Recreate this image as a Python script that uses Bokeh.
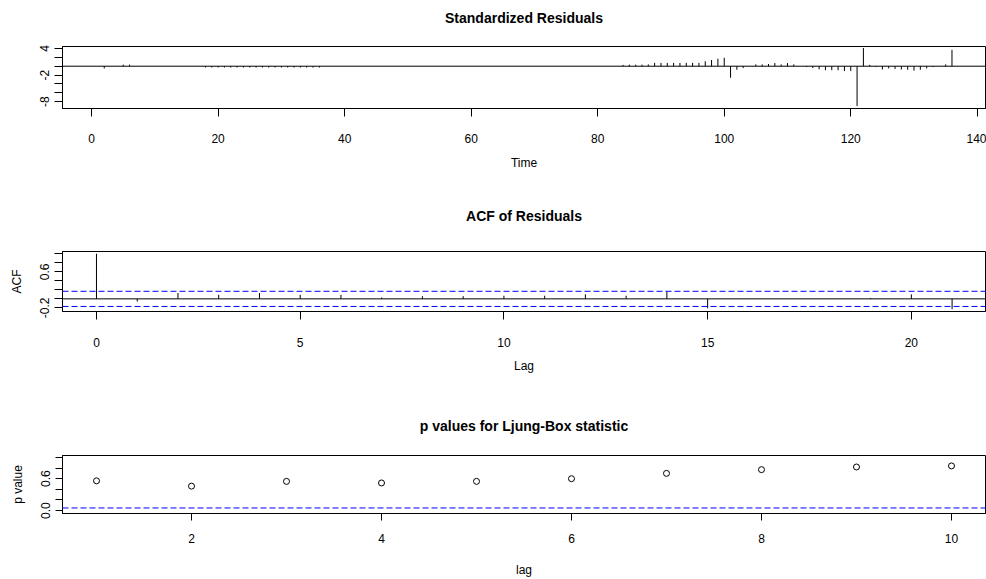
from bokeh.plotting import figure
from bokeh.models import Range1d, FixedTicker, Span
from bokeh.core.properties import value
from bokeh.layouts import column
from bokeh.embed import file_html
from bokeh.resources import INLINE

FONT = "Liberation Sans"

# ---------------- data ----------------
time = list(range(1, 137))
resid_nonzero = {
    2: -0.5, 5: 0.35, 6: 0.35,
    18: -0.3, 19: -0.3, 20: -0.3, 21: -0.3, 22: -0.3, 23: -0.3, 24: -0.3,
    25: -0.3, 26: -0.3, 27: -0.3, 28: -0.3, 29: -0.3, 30: -0.3, 31: -0.3,
    32: -0.3, 33: -0.3, 34: -0.3, 35: -0.3, 36: -0.3,
    84: 0.3, 85: 0.35, 86: 0.35, 87: 0.35, 88: 0.4,
    89: 0.75, 90: 0.75, 91: 0.75, 92: 0.75, 93: 0.75, 94: 0.75, 95: 0.75, 96: 0.75,
    97: 1.1, 98: 1.4, 99: 1.7, 100: 1.9,
    101: -2.6, 102: -0.8, 103: -0.4,
    105: 0.4, 106: 0.4, 107: 0.5, 108: 0.7, 109: 0.4, 110: 0.7, 111: 0.4,
    113: -0.2, 114: -0.4, 115: -0.7, 116: -0.9, 117: -0.9, 118: -0.9, 119: -1.1, 120: -1.1,
    121: -9.0, 122: 4.1, 123: 0.3, 124: -0.2,
    125: -0.75, 126: -0.5, 127: -0.6, 128: -0.75, 129: -0.8, 130: -1.0, 131: -0.8,
    132: -0.5, 133: -0.2, 135: 0.4, 136: 3.7,
}
std_resid = [resid_nonzero.get(t, 0.0) for t in time]

acf_lag = [0, 1, 2, 3, 4, 5, 6, 7, 8, 9, 10, 11, 12, 13, 14, 15, 16, 17, 18, 19, 20, 21]
acf_val = [1.0, -0.06, 0.13, 0.09, 0.13, 0.09, 0.09, 0.03, 0.06, 0.06, 0.07,
           0.07, 0.10, 0.07, 0.16, -0.21, 0.0, 0.0, 0.0, 0.02, 0.10, -0.23]
acf_clim = 0.168

lb_lag = [1, 2, 3, 4, 5, 6, 7, 8, 9, 10]
lb_pval = [0.56, 0.46, 0.55, 0.52, 0.55, 0.60, 0.70, 0.77, 0.82, 0.84]
lb_sig = 0.05

titles = ["Standardized Residuals", "ACF of Residuals", "p values for Ljung-Box statistic"]
x1_ticks = [0, 20, 40, 60, 80, 100, 120, 140]
y1_ticks = [-8, -6, -4, -2, 0, 2, 4]
y1_shown = {4: "4", -2: "-2", -8: "-8"}
x2_ticks = [0, 5, 10, 15, 20]
y2_ticks = [-0.2, 0.0, 0.2, 0.4, 0.6, 0.8, 1.0]
y2_shown = {0.6: "0.6", -0.2: "-0.2"}
x3_ticks = [2, 4, 6, 8, 10]
y3_ticks = [0.0, 0.2, 0.4, 0.6, 0.8, 1.0]
y3_shown = {0.6: "0.6", 0.0: "0.0"}


def title_fig(height, text):
    t = figure(width=986, height=height, x_range=Range1d(0, 1), y_range=Range1d(0, 1),
               output_backend="svg", toolbar_location=None, title=None,
               x_axis_location=None, y_axis_location=None,
               min_border=0, min_border_left=62, min_border_right=1,
               min_border_top=0, min_border_bottom=0)
    t.xgrid.visible = False
    t.ygrid.visible = False
    t.outline_line_color = None
    t.text(x=[0.5], y=[0.5], text=[text], text_align="center", text_baseline="middle",
           text_font=value(FONT), text_font_size=value("14px"),
           text_font_style=value("bold"), text_color="black")
    return t


def make_fig(height, top, bottom, xr, yr):
    p = figure(width=986, height=height, x_range=Range1d(*xr), y_range=Range1d(*yr),
               output_backend="svg", toolbar_location=None,
               min_border_left=62, min_border_right=1,
               min_border_top=top, min_border_bottom=bottom)
    p.xgrid.visible = False
    p.ygrid.visible = False
    p.outline_line_color = "black"
    p.outline_line_alpha = 1
    p.outline_line_width = 1
    p.background_fill_color = "white"
    p.border_fill_color = "white"
    return p


def style_axes(p, xticks, yticks, yshown, xlabel, ylabel, x_std, x_als, tick_out=8):
    ax = p.xaxis[0]
    ax.ticker = FixedTicker(ticks=xticks)
    ax.major_label_overrides = {t: str(t) for t in xticks}
    ay = p.yaxis[0]
    ay.ticker = FixedTicker(ticks=yticks)
    ay.major_label_overrides = {t: yshown.get(t, "") for t in yticks}
    ay.major_label_orientation = "vertical"
    for a in (ax, ay):
        a.minor_tick_line_color = None
        a.major_tick_in = 0
        a.major_tick_out = tick_out
        a.major_tick_line_color = "black"
        a.axis_line_color = "black"
        a.major_label_text_font = FONT
        a.major_label_text_font_size = "12px"
        a.major_label_text_color = "black"
        a.axis_label_text_font = FONT
        a.axis_label_text_font_size = "12px"
        a.axis_label_text_font_style = "normal"
        a.axis_label_text_color = "black"
    ax.axis_label = xlabel
    ax.major_label_standoff = x_std
    ax.axis_label_standoff = x_als
    if ylabel:
        ay.axis_label = ylabel
    ay.major_label_standoff = 5
    ay.axis_label_standoff = 14


# ---------- panel 1 ----------
t1 = title_fig(34, titles[0])
p1 = make_fig(161, 12, 87, (-4.6, 141.3), (-9.55, 4.45))
p1.segment(x0=time, y0=[0] * len(time), x1=time, y1=std_resid, line_color="black", line_width=1)
p1.add_layout(Span(location=0, dimension="width", line_color="black", line_width=1))
style_axes(p1, x1_ticks, y1_ticks, y1_shown, "Time", None, 17, 10)

# ---------- panel 2 ----------
t2 = title_fig(40, titles[1])
p2 = make_fig(165, 16, 89, (-0.834, 21.82), (-0.28, 1.05))
p2.segment(x0=acf_lag, y0=[0] * len(acf_lag), x1=acf_lag, y1=acf_val, line_color="black", line_width=1)
p2.add_layout(Span(location=0, dimension="width", line_color="black", line_width=1))
p2.add_layout(Span(location=acf_clim, dimension="width", line_color="#0000FF", line_width=1, line_dash="6 3"))
p2.add_layout(Span(location=-acf_clim, dimension="width", line_color="#0000FF", line_width=1, line_dash="6 3"))
style_axes(p2, x2_ticks, y2_ticks, y2_shown, "Lag", "ACF", 18, 9)

# ---------- panel 3 ----------
t3 = title_fig(50, titles[2])
p3 = make_fig(129, 5, 64, (0.642, 10.358), (-0.054, 1.036))
p3.scatter(lb_lag, lb_pval, marker="circle", size=6, fill_color=None, line_color="black", line_width=1)
p3.add_layout(Span(location=lb_sig, dimension="width", line_color="#0000FF", line_width=1, line_dash="6 3"))
style_axes(p3, x3_ticks, y3_ticks, y3_shown, "lag", "p value", 13, 17, tick_out=7)

layout = column(t1, p1, t2, p2, t3, p3, spacing=0)
open("out.html", "w").write(file_html(layout, INLINE))
